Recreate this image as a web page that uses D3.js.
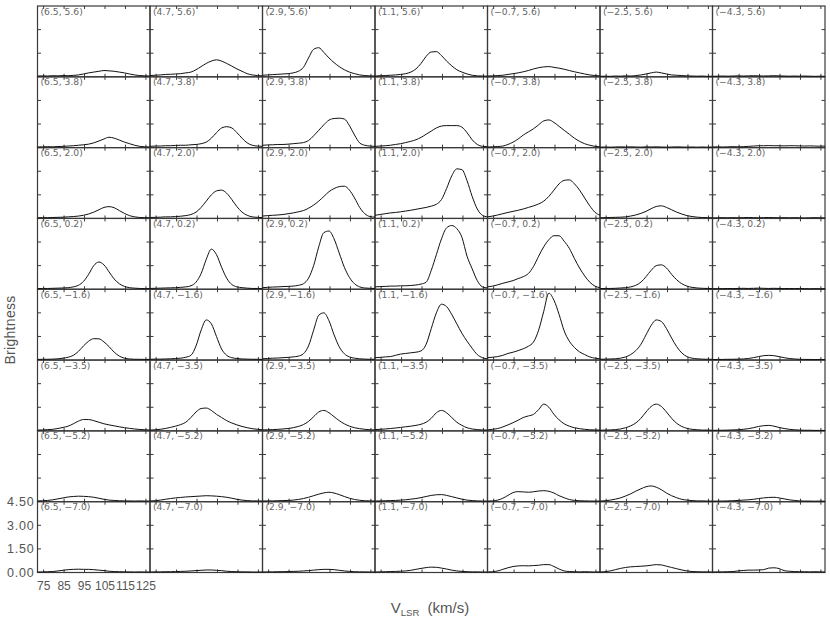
<!DOCTYPE html>
<html><head><meta charset="utf-8">
<script src="https://cdn.jsdelivr.net/npm/d3@7"></script>
<style>body{margin:0;background:#fff} svg{display:block}</style>
</head><body><svg id="c" width="830" height="620"></svg>
<script>
// ---- data ----
const raLabels = ["6.5","4.7","2.9","1.1","\u22120.7","\u22122.5","\u22124.3"];
const decLabels = ["5.6","3.8","2.0","0.2","\u22121.6","\u22123.5","\u22125.2","\u22127.0"];
const velocity = [72,74.5,77,79.5,82,84.5,87,89.5,92,94.5,97,99.5,102,104.5,107,109.5,112,114.5,117,119.5,122,124.5,127];
const xTicks = [75,85,95,105,115,125];
const yTicks = [0,1.5,3,4.5];
const yTickLabels = ["0.00","1.50","3.00","4.50"];

const row0 = [
 [0.05,0.06,0.05,0.07,0.06,0.08,0.07,0.09,0.12,0.18,0.25,0.3,0.35,0.4,0.38,0.35,0.3,0.25,0.18,0.12,0.08,0.06,0.05],
 [0.08,0.1,0.12,0.15,0.16,0.18,0.2,0.25,0.3,0.45,0.65,0.85,1.0,1.08,1.0,0.85,0.68,0.5,0.35,0.2,0.12,0.08,0.06],
 [0.1,0.12,0.14,0.16,0.18,0.2,0.25,0.35,0.6,1.2,1.75,1.85,1.55,1.2,0.9,0.65,0.45,0.3,0.2,0.12,0.08,0.06,0.05],
 [0.05,0.07,0.08,0.1,0.12,0.15,0.2,0.3,0.5,0.85,1.3,1.58,1.6,1.35,1.0,0.7,0.45,0.3,0.18,0.1,0.06,0.05,0.04],
 [0.05,0.06,0.08,0.1,0.15,0.2,0.25,0.32,0.4,0.5,0.58,0.63,0.65,0.6,0.55,0.48,0.4,0.32,0.25,0.18,0.12,0.08,0.06],
 [0.03,0.04,0.03,0.05,0.04,0.06,0.05,0.08,0.12,0.18,0.25,0.3,0.25,0.18,0.12,0.1,0.08,0.06,0.05,0.04,0.05,0.03,0.04],
 [0.03,0.04,0.05,0.04,0.05,0.06,0.05,0.06,0.07,0.06,0.05,0.06,0.07,0.06,0.05,0.04,0.05,0.04,0.05,0.04,0.03,0.04,0.03]
];
const row1 = [
 [0.04,0.05,0.06,0.05,0.07,0.08,0.1,0.12,0.15,0.18,0.22,0.3,0.42,0.55,0.66,0.6,0.48,0.35,0.25,0.15,0.08,0.05,0.04],
 [0.08,0.1,0.1,0.12,0.12,0.14,0.15,0.15,0.18,0.2,0.25,0.35,0.6,0.95,1.25,1.33,1.25,0.95,0.6,0.3,0.15,0.1,0.08],
 [0.15,0.17,0.18,0.2,0.2,0.22,0.25,0.28,0.32,0.45,0.75,1.1,1.45,1.75,1.85,1.87,1.82,1.4,0.8,0.3,0.15,0.1,0.08],
 [0.08,0.1,0.12,0.15,0.2,0.25,0.32,0.4,0.5,0.65,0.85,1.05,1.25,1.37,1.4,1.4,1.4,1.3,0.95,0.5,0.2,0.08,0.06],
 [0.04,0.05,0.07,0.1,0.2,0.35,0.55,0.8,1.0,1.2,1.45,1.7,1.76,1.6,1.35,1.1,0.85,0.6,0.4,0.25,0.15,0.08,0.05],
 [0.03,0.04,0.03,0.04,0.05,0.04,0.05,0.04,0.03,0.05,0.04,0.05,0.04,0.03,0.04,0.05,0.04,0.03,0.04,0.03,0.04,0.03,0.04],
 [0.04,0.05,0.04,0.05,0.06,0.05,0.06,0.08,0.1,0.12,0.12,0.13,0.12,0.12,0.11,0.12,0.12,0.11,0.1,0.11,0.1,0.09,0.1]
];
const row2 = [
 [0.04,0.05,0.05,0.06,0.07,0.08,0.1,0.12,0.15,0.2,0.28,0.4,0.55,0.7,0.75,0.68,0.5,0.32,0.18,0.1,0.06,0.05,0.04],
 [0.06,0.07,0.08,0.1,0.1,0.12,0.14,0.18,0.25,0.4,0.7,1.1,1.5,1.75,1.8,1.6,1.2,0.75,0.4,0.2,0.1,0.07,0.05],
 [0.15,0.18,0.2,0.22,0.25,0.3,0.35,0.42,0.5,0.65,0.85,1.1,1.4,1.7,1.9,2.02,2.05,1.8,1.3,0.7,0.3,0.12,0.08],
 [0.2,0.25,0.3,0.35,0.38,0.42,0.47,0.52,0.58,0.64,0.7,0.78,0.9,1.2,1.9,2.7,3.15,3.1,2.4,1.4,0.6,0.2,0.1],
 [0.1,0.15,0.22,0.3,0.38,0.45,0.52,0.6,0.7,0.8,0.92,1.1,1.4,1.8,2.2,2.42,2.45,2.2,1.8,1.3,0.8,0.4,0.2],
 [0.04,0.05,0.06,0.07,0.08,0.1,0.15,0.22,0.32,0.45,0.62,0.76,0.8,0.7,0.55,0.4,0.28,0.18,0.12,0.08,0.06,0.05,0.04],
 [0.03,0.04,0.05,0.04,0.05,0.04,0.05,0.06,0.05,0.04,0.05,0.06,0.05,0.04,0.05,0.04,0.05,0.04,0.03,0.04,0.05,0.04,0.03]
];
const row3 = [
 [0.04,0.05,0.05,0.06,0.07,0.08,0.1,0.15,0.25,0.5,0.95,1.5,1.73,1.55,1.1,0.65,0.35,0.18,0.1,0.07,0.05,0.04,0.04],
 [0.05,0.06,0.07,0.08,0.09,0.1,0.12,0.15,0.22,0.45,1.0,1.9,2.55,2.2,1.4,0.7,0.3,0.15,0.1,0.07,0.05,0.05,0.04],
 [0.1,0.12,0.14,0.15,0.17,0.18,0.2,0.25,0.35,0.7,1.5,2.7,3.6,3.7,3.2,2.3,1.4,0.75,0.35,0.15,0.08,0.06,0.05],
 [0.15,0.17,0.18,0.2,0.2,0.22,0.22,0.24,0.27,0.33,0.45,1.2,2.2,3.2,3.9,4.05,3.85,3.3,2.1,1.3,0.55,0.15,0.08],
 [0.15,0.2,0.28,0.38,0.46,0.55,0.68,0.8,1.0,1.45,2.1,2.7,3.15,3.4,3.4,3.05,2.6,1.95,1.35,0.85,0.45,0.2,0.1],
 [0.04,0.05,0.05,0.06,0.08,0.1,0.15,0.25,0.45,0.8,1.2,1.5,1.55,1.35,0.95,0.6,0.35,0.2,0.12,0.08,0.06,0.05,0.04],
 [0.03,0.04,0.04,0.05,0.04,0.05,0.06,0.05,0.06,0.07,0.06,0.05,0.06,0.05,0.04,0.05,0.04,0.05,0.04,0.03,0.04,0.03,0.04]
];
const row4 = [
 [0.04,0.05,0.05,0.06,0.08,0.12,0.18,0.3,0.55,0.9,1.2,1.36,1.35,1.15,0.85,0.5,0.25,0.12,0.07,0.05,0.05,0.04,0.04],
 [0.05,0.06,0.06,0.07,0.08,0.1,0.12,0.18,0.3,0.9,1.9,2.55,2.3,1.5,0.7,0.3,0.15,0.1,0.07,0.06,0.05,0.05,0.04],
 [0.08,0.1,0.12,0.13,0.15,0.17,0.2,0.25,0.4,0.9,1.9,2.85,3.0,2.5,1.6,0.85,0.4,0.2,0.12,0.08,0.06,0.05,0.05],
 [0.15,0.17,0.2,0.22,0.3,0.38,0.42,0.46,0.5,0.58,1.0,2.0,3.0,3.55,3.4,2.9,2.3,1.7,1.2,0.75,0.35,0.15,0.08],
 [0.15,0.18,0.22,0.3,0.42,0.5,0.6,0.72,0.88,1.15,1.9,3.1,4.25,3.8,2.9,1.85,1.2,0.8,0.52,0.35,0.2,0.12,0.08],
 [0.05,0.06,0.07,0.08,0.12,0.2,0.35,0.6,1.0,1.6,2.2,2.55,2.45,2.0,1.4,0.85,0.45,0.22,0.12,0.08,0.06,0.05,0.05],
 [0.03,0.04,0.04,0.05,0.05,0.06,0.07,0.1,0.15,0.22,0.28,0.3,0.28,0.22,0.15,0.1,0.07,0.05,0.04,0.04,0.03,0.04,0.03]
];
const row5 = [
 [0.05,0.06,0.08,0.1,0.15,0.22,0.3,0.45,0.62,0.72,0.72,0.65,0.55,0.45,0.38,0.32,0.26,0.2,0.16,0.12,0.09,0.07,0.05],
 [0.05,0.07,0.1,0.15,0.22,0.3,0.4,0.55,0.85,1.2,1.42,1.45,1.3,1.05,0.85,0.65,0.5,0.38,0.28,0.2,0.14,0.1,0.07],
 [0.06,0.07,0.08,0.1,0.12,0.15,0.2,0.28,0.4,0.6,0.9,1.2,1.3,1.15,0.9,0.65,0.45,0.3,0.2,0.14,0.1,0.07,0.06],
 [0.08,0.1,0.12,0.15,0.18,0.22,0.26,0.3,0.35,0.42,0.55,0.8,1.15,1.3,1.15,0.85,0.55,0.35,0.2,0.12,0.08,0.06,0.05],
 [0.06,0.1,0.15,0.25,0.38,0.52,0.68,0.85,0.95,1.05,1.35,1.7,1.5,1.05,0.7,0.45,0.3,0.2,0.14,0.1,0.07,0.06,0.05],
 [0.04,0.05,0.06,0.08,0.12,0.2,0.32,0.5,0.8,1.2,1.55,1.7,1.55,1.2,0.8,0.48,0.28,0.16,0.1,0.07,0.05,0.05,0.04],
 [0.03,0.04,0.04,0.05,0.06,0.07,0.1,0.14,0.2,0.28,0.33,0.35,0.3,0.22,0.15,0.1,0.07,0.05,0.04,0.04,0.03,0.03,0.03]
];
const row6 = [
 [0.05,0.06,0.08,0.12,0.18,0.24,0.3,0.33,0.35,0.34,0.32,0.28,0.22,0.15,0.1,0.08,0.06,0.05,0.05,0.04,0.05,0.04,0.04],
 [0.05,0.06,0.1,0.15,0.2,0.24,0.27,0.3,0.32,0.34,0.36,0.38,0.37,0.35,0.32,0.28,0.22,0.15,0.1,0.07,0.05,0.05,0.04],
 [0.04,0.05,0.05,0.06,0.07,0.08,0.1,0.14,0.2,0.28,0.38,0.48,0.56,0.6,0.55,0.45,0.33,0.22,0.14,0.09,0.06,0.05,0.04],
 [0.04,0.05,0.06,0.07,0.08,0.1,0.12,0.16,0.2,0.26,0.33,0.4,0.44,0.45,0.4,0.32,0.24,0.16,0.1,0.07,0.05,0.04,0.04],
 [0.04,0.05,0.1,0.22,0.4,0.58,0.64,0.62,0.6,0.63,0.68,0.7,0.66,0.55,0.38,0.25,0.14,0.08,0.06,0.05,0.04,0.04,0.04],
 [0.04,0.06,0.1,0.16,0.24,0.36,0.5,0.67,0.82,0.95,1.0,0.92,0.76,0.55,0.38,0.25,0.15,0.1,0.07,0.05,0.05,0.04,0.04],
 [0.03,0.04,0.04,0.05,0.06,0.08,0.1,0.12,0.15,0.2,0.24,0.27,0.28,0.24,0.18,0.12,0.08,0.05,0.04,0.04,0.03,0.04,0.03]
];
const row7 = [
 [0.03,0.04,0.05,0.06,0.1,0.14,0.18,0.2,0.21,0.2,0.2,0.18,0.15,0.12,0.08,0.06,0.05,0.04,0.04,0.03,0.04,0.03,0.03],
 [0.03,0.04,0.04,0.05,0.05,0.06,0.07,0.08,0.1,0.12,0.14,0.16,0.16,0.14,0.12,0.08,0.06,0.05,0.04,0.04,0.03,0.03,0.03],
 [0.03,0.04,0.04,0.05,0.05,0.06,0.07,0.08,0.1,0.12,0.15,0.18,0.2,0.2,0.18,0.14,0.1,0.07,0.05,0.04,0.04,0.03,0.03],
 [0.03,0.04,0.05,0.06,0.07,0.08,0.1,0.14,0.2,0.26,0.31,0.34,0.33,0.28,0.22,0.15,0.1,0.07,0.05,0.04,0.04,0.03,0.03],
 [0.03,0.05,0.1,0.2,0.3,0.38,0.42,0.43,0.42,0.44,0.46,0.5,0.5,0.38,0.22,0.1,0.06,0.05,0.04,0.05,0.04,0.03,0.04],
 [0.03,0.05,0.1,0.18,0.26,0.32,0.36,0.38,0.4,0.42,0.46,0.5,0.48,0.4,0.32,0.24,0.16,0.1,0.06,0.05,0.04,0.04,0.03],
 [0.03,0.04,0.04,0.05,0.06,0.1,0.13,0.15,0.15,0.16,0.18,0.28,0.3,0.25,0.12,0.08,0.06,0.05,0.05,0.04,0.05,0.04,0.03]
];
const rows = [row0,row1,row2,row3,row4,row5,row6,row7];

// ---- layout ----
const gridLeft = 37.5, gridTop = 6, gridW = 787.5, gridH = 566.5;
const nCols = raLabels.length, nRows = decLabels.length;

const svg = d3.select("#c");
const colX = d3.scaleBand().domain(d3.range(nCols)).range([gridLeft, gridLeft + gridW]).paddingInner(0);
const rowY = d3.scaleBand().domain(d3.range(nRows)).range([gridTop, gridTop + gridH]).paddingInner(0);
const cellW = colX.bandwidth(), cellH = rowY.bandwidth();
const x = d3.scaleLinear().domain([72, 127]).range([0, cellW]);
const y = d3.scaleLinear().domain([0, 4.5]).range([cellH, 0]);

const line = d3.line().x((d, i) => x(velocity[i])).y(d => y(d)).curve(d3.curveMonotoneX);

const frameColor = "#3a3a3a";
const textColor = "#555";

for (let r = 0; r < nRows; r++) {
  for (let c = 0; c < nCols; c++) {
    const g = svg.append("g").attr("transform", `translate(${colX(c)},${rowY(r)})`);
    g.append("rect").attr("x", 0).attr("y", 0).attr("width", cellW).attr("height", cellH)
      .attr("fill", "none").attr("stroke", frameColor).attr("stroke-width", 1.2);
    const tk = g.append("g").attr("stroke", frameColor).attr("stroke-width", 1);
    xTicks.forEach(t => {
      tk.append("line").attr("x1", x(t)).attr("x2", x(t)).attr("y1", 0).attr("y2", 3);
      tk.append("line").attr("x1", x(t)).attr("x2", x(t)).attr("y1", cellH).attr("y2", cellH - 3);
    });
    yTicks.slice(1, 3).forEach(t => {
      tk.append("line").attr("x1", 0).attr("x2", 3.5).attr("y1", y(t)).attr("y2", y(t));
      tk.append("line").attr("x1", cellW).attr("x2", cellW - 3.5).attr("y1", y(t)).attr("y2", y(t));
    });
  }
}

for (let r = 0; r < nRows; r++) {
  for (let c = 0; c < nCols; c++) {
    const g = svg.append("g").attr("transform", `translate(${colX(c)},${rowY(r)})`);
    g.append("path").datum(rows[r][c]).attr("d", line)
      .attr("fill", "none").attr("stroke", "#111").attr("stroke-width", 1);
    g.append("text").attr("x", 3).attr("y", 8.5)
      .attr("font-family", "DejaVu Sans, sans-serif").attr("font-size", 9.2)
      .attr("fill", "#666")
      .text(`(${raLabels[c]}, ${decLabels[r]})`);
  }
}

const gBL = svg.append("g").attr("transform", `translate(${colX(0)},${rowY(nRows - 1)})`);
yTicks.forEach((t, i) => {
  gBL.append("text").attr("x", -3).attr("y", y(t) + 4.5).attr("text-anchor", "end")
    .attr("font-family", "Liberation Sans, Arial, sans-serif").attr("font-size", 12.5)
    .attr("letter-spacing", 0.8).attr("fill", textColor).text(yTickLabels[i]);
});
xTicks.forEach(t => {
  gBL.append("text").attr("x", x(t)).attr("y", cellH + 17).attr("text-anchor", "middle")
    .attr("font-family", "Liberation Sans, Arial, sans-serif").attr("font-size", 12)
    .attr("fill", textColor).text(t);
});

svg.append("text").attr("transform", "translate(15,330) rotate(-90)").attr("text-anchor", "middle")
  .attr("font-family", "Liberation Sans, Arial, sans-serif").attr("font-size", 14)
  .attr("letter-spacing", 0.3).attr("fill", textColor).text("Brightness");

const xt = svg.append("text").attr("x", 430).attr("y", 613).attr("text-anchor", "middle")
  .attr("font-family", "Liberation Sans, Arial, sans-serif").attr("font-size", 15)
  .attr("fill", textColor);
xt.append("tspan").text("V");
xt.append("tspan").attr("font-size", 9.5).attr("dy", 3).text("LSR");
xt.append("tspan").attr("dy", -3).text("\u00a0 (km/s)");
</script></body></html>
